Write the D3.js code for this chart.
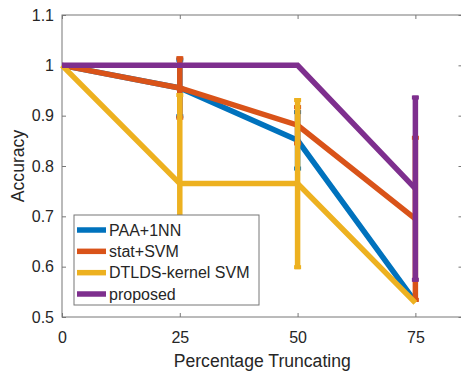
<!DOCTYPE html>
<html>
<head>
  <style type="text/css">
    body { margin: 0; background: #fff; }
    text { font-family: "Liberation Sans", Arial, Helvetica, sans-serif; fill: #262626; }
  </style>
</head>
<body>
<div id="chart"></div>
<script src="https://d3js.org/d3.v7.min.js"></script>
<script type="text/javascript">
  // data
  var truncating = [0, 25, 50, 75];
  var xTicks = [0, 25, 50, 75];
  var yTicks = [0.5, 0.6, 0.7, 0.8, 0.9, 1, 1.1];
  var names = ["PAA+1NN", "stat+SVM", "DTLDS-kernel SVM", "proposed"];
  var paa = [1, 0.955, 0.851, 0.53];
  var paaErr = [0, 0.06, 0.06, 0];
  var stat = [1, 0.955, 0.881, 0.695];
  var statErr = [0, 0.063, 0.04, 0.165];
  var dtlds = [1, 0.765, 0.765, 0.528];
  var dtldsErr = [0, 0.18, 0.17, 0];
  var proposed = [1, 1, 1, 0.755];
  var proposedErr = [0, 0, 0, 0.185];
  var colors = ["#0072BD", "#D95319", "#EDB120", "#7E2F8E"];

  var series = [
    {name: names[0], y: paa, err: paaErr, color: colors[0]},
    {name: names[1], y: stat, err: statErr, color: colors[1]},
    {name: names[2], y: dtlds, err: dtldsErr, color: colors[2]},
    {name: names[3], y: proposed, err: proposedErr, color: colors[3]}
  ];

  var W = 461, H = 371;

  var svg = d3.select("#chart").append("svg")
      .attr("width", W).attr("height", H);

  var x = d3.scaleLinear().domain([0, 85]).range([62, 462.5]);
  var y = d3.scaleLinear().domain([0.5, 1.1]).range([317, 15]);

  // axes box
  svg.append("rect")
    .attr("x", x(0)).attr("y", y(1.1))
    .attr("width", x(85) - x(0)).attr("height", y(0.5) - y(1.1))
    .attr("fill", "none").attr("stroke", "#777").attr("stroke-width", 1);

  var gx = svg.append("g").attr("transform", "translate(0," + y(0.5) + ")")
    .call(d3.axisBottom(x).tickValues(xTicks).tickSize(-4).tickPadding(15).tickFormat(d3.format("d")));
  var gxt = svg.append("g").attr("transform", "translate(0," + y(1.1) + ")")
    .call(d3.axisTop(x).tickValues(xTicks).tickSize(-4).tickFormat(""));
  var gy = svg.append("g").attr("transform", "translate(" + x(0) + ",0)")
    .call(d3.axisLeft(y).tickValues(yTicks).tickSize(-4).tickPadding(8).tickFormat(function(d) { return d3.format("~g")(d); }));
  var gyr = svg.append("g").attr("transform", "translate(" + x(85) + ",0)")
    .call(d3.axisRight(y).tickValues(yTicks).tickSize(-4).tickFormat(""));

  [gx, gxt, gy, gyr].forEach(function(g) {
    g.select(".domain").remove();
    g.selectAll(".tick line").attr("stroke", "#777");
    g.selectAll("text").style("font-size", "16px").attr("fill", "#262626");
  });

  // axis labels
  svg.append("text")
    .attr("x", (x(0) + x(85)) / 2).attr("y", 367)
    .attr("text-anchor", "middle").style("font-size", "17.6px")
    .text("Percentage Truncating");
  svg.append("text")
    .attr("transform", "translate(24," + ((y(0.5) + y(1.1)) / 2) + ") rotate(-90)")
    .attr("text-anchor", "middle").style("font-size", "17.6px")
    .text("Accuracy");

  var line = d3.line()
    .x(function(d, i) { return x(truncating[i]); })
    .y(function(d) { return y(d); });

  var plot = svg.append("g");

  series.forEach(function(s) {
    var g = plot.append("g");
    g.append("path")
      .datum(s.y)
      .attr("d", line)
      .attr("fill", "none")
      .attr("stroke", s.color)
      .attr("stroke-width", 5.5)
      .attr("stroke-linejoin", "miter");

    var bars = truncating.map(function(t, i) { return {t: t, v: s.y[i], e: s.err[i]}; })
      .filter(function(d) { return d.e > 0; });

    g.selectAll("line.bar").data(bars).enter().append("line")
      .attr("x1", function(d) { return x(d.t); })
      .attr("x2", function(d) { return x(d.t); })
      .attr("y1", function(d) { return y(d.v + d.e); })
      .attr("y2", function(d) { return y(d.v - d.e); })
      .attr("stroke", s.color)
      .attr("stroke-width", 5.5);

    // small caps
    [1, -1].forEach(function(sign) {
      g.selectAll(null).data(bars).enter().append("line")
        .attr("x1", function(d) { return x(d.t) - 3.5; })
        .attr("x2", function(d) { return x(d.t) + 3.5; })
        .attr("y1", function(d) { return y(d.v + sign * d.e) + sign * 2; })
        .attr("y2", function(d) { return y(d.v + sign * d.e) + sign * 2; })
        .attr("stroke", s.color).attr("stroke-width", 4);
    });
  });

  // legend
  var leg = svg.append("g");
  leg.append("rect")
    .attr("x", 74).attr("y", 215).attr("width", 185).attr("height", 90)
    .attr("fill", "#fff").attr("stroke", "#777").attr("stroke-width", 1);

  var rowY = d3.scalePoint().domain(names).range([230, 294]);
  var items = leg.selectAll("g.item").data(series).enter().append("g");
  items.append("line")
    .attr("x1", 77).attr("x2", 106)
    .attr("y1", function(d) { return rowY(d.name); })
    .attr("y2", function(d) { return rowY(d.name); })
    .attr("stroke", function(d) { return d.color; })
    .attr("stroke-width", 5.5);
  items.append("text")
    .attr("x", 109)
    .attr("y", function(d) { return rowY(d.name); })
    .attr("dy", "0.36em")
    .style("font-size", "16px")
    .text(function(d) { return d.name; });
</script>
</body>
</html>
